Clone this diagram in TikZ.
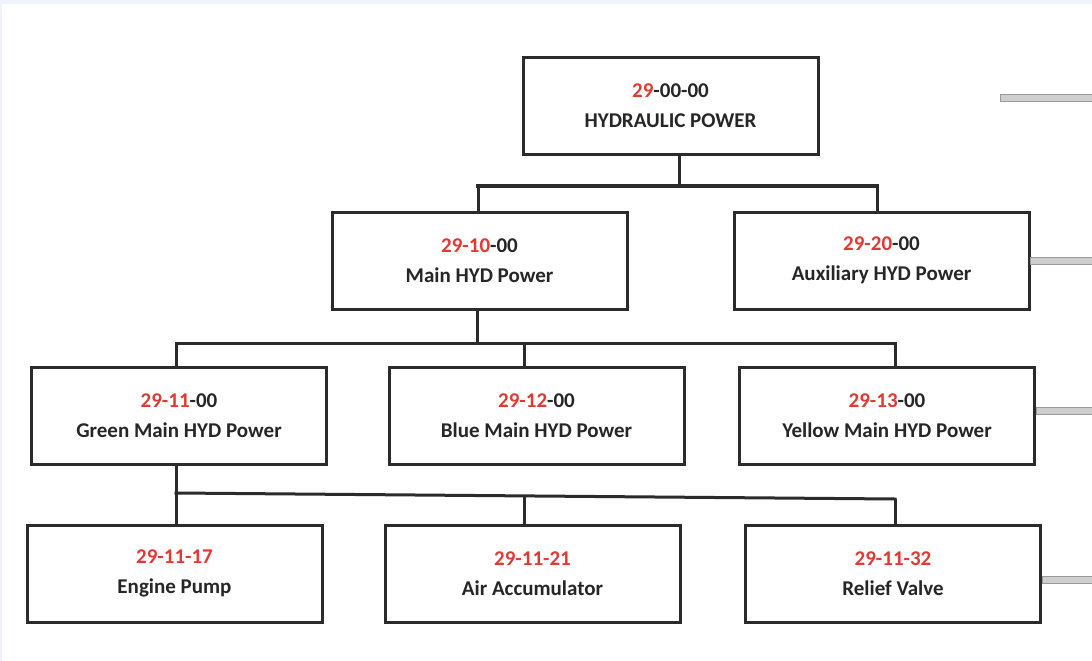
\documentclass[tikz,border=0pt]{standalone}
\usepackage{fontspec}
\setmainfont{Carlito}
\usetikzlibrary{calc}
\definecolor{boxline}{HTML}{2B2B2B}
\definecolor{txt}{HTML}{262626}
\definecolor{code}{HTML}{E03A34}
\definecolor{barfill}{HTML}{CFCFCF}
\definecolor{barline}{HTML}{9A9A9A}
\definecolor{edge}{HTML}{EEF4FA}
\newcommand{\rc}[1]{\textcolor{code}{#1}}
\begin{document}
\begin{tikzpicture}[x=1pt,y=-1pt,
  box/.style={draw=boxline,line width=3pt,fill=white,minimum width=295pt,minimum height=97pt,
    inner sep=0pt,align=center,text=txt,font=\bfseries\fontsize{21}{30}\selectfont},
  link/.style={draw=boxline,line width=3pt},
  bus/.style={draw=boxline,line width=3pt},
  bar/.style={draw=barline,fill=barfill,line width=1pt}]
\fill[edge] (0,0) rectangle (1092,661);
\fill[white] (2,4) rectangle (1092,661);
\useasboundingbox (0,0) rectangle (1092,661);

% nodes
\node[box] (top)    at (670.5,106)   {\rc{29}-00-00\\HYDRAULIC POWER};
\node[box] (main)   at (479.5,260.5) {\rc{29-10}-00\\Main HYD Power};
\node[box] (aux)    at (881.5,260.5) {\rc{29-20}-00\\Auxiliary HYD Power};
\node[box] (green)  at (179,416)     {\rc{29-11}-00\\Green Main HYD Power};
\node[box] (blue)   at (536.5,416)   {\rc{29-12}-00\\Blue Main HYD Power};
\node[box] (yellow) at (887,416)     {\rc{29-13}-00\\Yellow Main HYD Power};
\node[box] (engine) at (174.5,573.5) {\rc{29-11-17}\\Engine Pump};
\node[box] (air)    at (532.5,573.5) {\rc{29-11-21}\\Air Accumulator};
\node[box] (relief) at (893,573.5)   {\rc{29-11-32}\\Relief Valve};

% level 1 connectors
\coordinate (j1) at (679,186);
\draw[link] (top.south -| j1) -- (j1);
\draw[bus,line width=4pt,line cap=rect] (478,186) -- (877,186);
\draw[link] (478,186) -- (main.north -| 478,0);
\draw[link] (877,186) -- (aux.north -| 877,0);

% level 2 connectors
\coordinate (j2) at (477,343);
\draw[link] (main.south -| j2) -- (j2);
\draw[bus,line cap=rect] (176,343) -- (895,343);
\draw[link] (176,343) -- (green.north -| 176,0);
\draw[link] (524,343) -- (blue.north -| 524,0);
\draw[link] (895,343) -- (yellow.north -| 895,0);

% level 3 connectors
\coordinate (j3) at (176,493);
\draw[link] (green.south -| j3) -- (j3);
\draw[bus,line cap=rect] (j3) -- (895,499);
\draw[link] (j3) -- (engine.north -| 176,0);
\draw[link] (524,496) -- (air.north -| 524,0);
\draw[link] (895,499) -- (relief.north -| 895,0);

% side bars
\draw[bar] (1000,94.5) rectangle (1094,101.5);
\draw[bar] (aux.east |- 0,257.5) rectangle (1094,264.5);
\draw[bar] (yellow.east |- 0,407.5) rectangle (1094,414.5);
\draw[bar] (relief.east |- 0,576.5) rectangle (1094,583.5);
\end{tikzpicture}
\end{document}
